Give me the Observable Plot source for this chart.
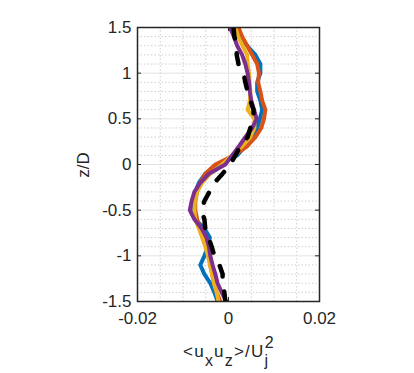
<!DOCTYPE html>
<html><head><meta charset="utf-8">
<script src="https://cdn.jsdelivr.net/npm/d3@7"></script>
<script src="https://cdn.jsdelivr.net/npm/@observablehq/plot@0.6"></script>
<style>body{margin:0;background:#fff} svg{display:block}</style>
</head><body><div id="chart"></div>
<script>
const z = [1.5,1.4,1.3,1.2,1.1,1.0,0.9,0.8,0.7,0.6,0.5,0.4,0.3,0.2,0.1,0,-0.1,-0.2,-0.3,-0.4,-0.5,-0.6,-0.7,-0.8,-0.9,-1.0,-1.1,-1.2,-1.3,-1.4,-1.5];
const blue   = [0.0019,0.0026,0.0041,0.0059,0.0070,0.0070,0.0063,0.0063,0.0070,0.0074,0.0069,0.0063,0.0054,0.0037,0.0019,-0.0024,-0.0051,-0.0065,-0.0073,-0.0078,-0.0081,-0.0073,-0.0053,-0.0041,-0.0045,-0.0053,-0.0062,-0.0053,-0.0040,-0.0031,-0.0024];
const orange = [0.0022,0.0030,0.0041,0.0052,0.0063,0.0067,0.0065,0.0070,0.0074,0.0081,0.0078,0.0072,0.0059,0.0041,0.0012,-0.0029,-0.0051,-0.0062,-0.0069,-0.0073,-0.0073,-0.0069,-0.0062,-0.0051,-0.0046,-0.0041,-0.0040,-0.0036,-0.0032,-0.0026,-0.0018];
const yellow = [0.0015,0.0021,0.0031,0.0041,0.0042,0.0045,0.0046,0.0048,0.0047,0.0042,0.0057,0.0057,0.0048,0.0030,0.0008,-0.0014,-0.0040,-0.0058,-0.0069,-0.0074,-0.0075,-0.0073,-0.0065,-0.0058,-0.0051,-0.0045,-0.0041,-0.0036,-0.0032,-0.0026,-0.0022];
const purple = [0.0003,0.0012,0.0019,0.0030,0.0037,0.0042,0.0045,0.0047,0.0050,0.0056,0.0062,0.0052,0.0037,0.0023,0.0008,-0.0007,-0.0043,-0.0062,-0.0075,-0.0081,-0.0085,-0.0075,-0.0059,-0.0048,-0.0043,-0.0040,-0.0035,-0.0029,-0.0024,-0.0015,-0.0005];
const black  = [0.0011,0.0013,0.0018,0.0018,0.0022,0.0033,0.0037,0.0042,0.0048,0.0055,0.0055,0.0048,0.0042,0.0026,0.0015,0.0004,-0.0013,-0.0031,-0.0042,-0.0053,-0.0059,-0.0053,-0.0051,-0.0044,-0.0037,-0.0031,-0.0020,-0.0013,-0.0013,-0.0009,-0.0007];

const xTicks = [-0.02, 0, 0.02];
const yTicks = [-1.5, -1, -0.5, 0, 0.5, 1, 1.5];
const xMinor = [-0.015, -0.01, -0.005, 0.005, 0.01, 0.015];
const yMinor = [-1.4,-1.3,-1.2,-1.1,-0.9,-0.8,-0.7,-0.6,-0.4,-0.3,-0.2,-0.1,0.1,0.2,0.3,0.4,0.6,0.7,0.8,0.9,1.1,1.2,1.3,1.4];

const series = [
  {name: "s1", color: "#0072BD", vals: blue},
  {name: "s2", color: "#D95319", vals: orange},
  {name: "s3", color: "#EDB120", vals: yellow},
  {name: "s4", color: "#7E2F8E", vals: purple}
];
const solidData = series.flatMap(s => s.vals.map((v, i) => ({s: s.name, c: s.color, x: v, z: z[i]})));
const blackData = black.map((v, i) => ({x: v, z: z[i]}));

const W = 414, H = 373, mL = 137, mR = 95, mT = 27, mB = 72;
const pw = W - mL - mR, ph = H - mT - mB;

const plot = Plot.plot({
  width: W, height: H,
  marginLeft: mL, marginRight: mR, marginTop: mT, marginBottom: mB,
  x: {domain: [-0.02, 0.02]},
  y: {domain: [-1.5, 1.5]},
  style: {fontFamily: "'Liberation Sans', Arial, sans-serif", fontSize: "17px", color: "#262626", background: "#fff"},
  marks: [
    Plot.ruleX(xMinor, {x: d => d, stroke: "#cfcfcf", strokeDasharray: "1.5,2"}),
    Plot.ruleY(yMinor, {y: d => d, stroke: "#cfcfcf", strokeDasharray: "1.5,2"}),
    Plot.ruleX(xTicks, {x: d => d, stroke: "#e3e3e3"}),
    Plot.ruleY(yTicks, {y: d => d, stroke: "#e3e3e3"}),
    Plot.line(solidData, {x: "x", y: "z", z: "s", stroke: "c", strokeWidth: 4, strokeLinejoin: "round", clip: true}),
    Plot.line(blackData, {x: "x", y: "z", stroke: "#000", strokeWidth: 4.5, strokeDasharray: "11,15", clip: true}),
    Plot.tickY(yTicks, {y: d => d, insetRight: pw - 4, stroke: "#262626"}),
    Plot.tickY(yTicks, {y: d => d, insetLeft: pw - 4, stroke: "#262626"}),
    Plot.tickX(xTicks, {x: d => d, insetTop: ph - 4, stroke: "#262626"}),
    Plot.tickX(xTicks, {x: d => d, insetBottom: ph - 4, stroke: "#262626"}),
    Plot.frame({stroke: "#262626", strokeWidth: 1.5}),
    Plot.axisY(yTicks, {tickSize: 0, tickPadding: 6, tickFormat: d => String(d), label: null, fontSize: 17}),
    Plot.axisX(xTicks, {tickSize: 0, tickPadding: 10, tickFormat: d => String(d), label: null, fontSize: 17})
  ]
});
document.getElementById("chart").appendChild(plot);

const svg = d3.select(plot);
const font = "'Liberation Sans', Arial, sans-serif";
svg.append("text")
  .attr("transform", "translate(89,165) rotate(-90)")
  .attr("text-anchor", "middle")
  .attr("font-family", font).attr("font-size", 17).attr("fill", "#262626")
  .text("z/D");

const xl = svg.append("text")
  .attr("x", 229).attr("y", 357)
  .attr("text-anchor", "middle")
  .attr("letter-spacing", "1.2px")
  .attr("font-family", font).attr("font-size", 17).attr("fill", "#262626");
xl.append("tspan").text("<u");
xl.append("tspan").attr("dy", 9).attr("font-size", 16).text("x");
xl.append("tspan").attr("dy", -9).text("u");
xl.append("tspan").attr("dy", 9).attr("font-size", 16).text("z");
xl.append("tspan").attr("dy", -9).text(">/U");
xl.append("tspan").attr("dy", 9).attr("font-size", 16).text("j");
xl.append("tspan").attr("dy", -18).attr("dx", -4.5).attr("font-size", 16).text("2");
</script>
</body></html>
